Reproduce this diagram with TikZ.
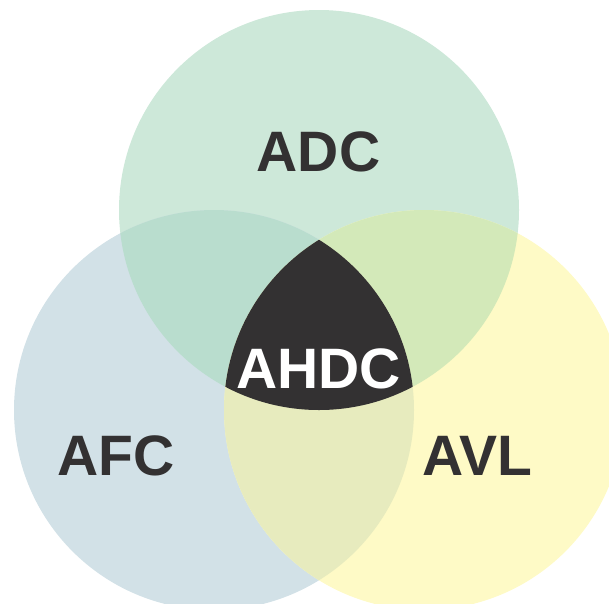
\documentclass[tikz,border=0pt]{standalone}
\usepackage{fontspec}
\setmainfont{Liberation Sans}
\definecolor{cTop}{HTML}{CDE8D9}
\definecolor{cLeft}{HTML}{D2E1E7}
\definecolor{cRight}{HTML}{FEFAC6}
\definecolor{cTL}{HTML}{B9DDCE}
\definecolor{cTR}{HTML}{D3E9B9}
\definecolor{cLR}{HTML}{E7EBBE}
\definecolor{cMid}{HTML}{333132}
\tikzset{lbl/.style={font=\fontsize{57}{57}\selectfont\bfseries, inner sep=0pt, anchor=base}}
\begin{document}
\begin{tikzpicture}[x=1pt,y=-1pt]
\useasboundingbox (0,0) rectangle (609,603);
\clip (0,0) rectangle (609,603);
\def\ct{(319,210) circle[radius=200pt]}
\def\cl{(214,410) circle[radius=200pt]}
\def\cr{(424,410) circle[radius=200pt]}
\fill[cTop] \ct;
\fill[cLeft] \cl;
\fill[cRight] \cr;
\begin{scope}\clip \ct; \fill[cTL] \cl; \end{scope}
\begin{scope}\clip \ct; \fill[cTR] \cr; \end{scope}
\begin{scope}\clip \cl; \fill[cLR] \cr; \end{scope}
\begin{scope}\clip \ct; \clip \cl; \fill[cMid] \cr; \end{scope}
\node[lbl, text=cMid] (adc) at (318.5,171) {ADC};
\node[lbl, text=white] (ahdc) at (318.5,388) {AHDC};
\node[lbl, text=cMid] (afc) at (116,475.5) {AFC};
\node[lbl, text=cMid] (avl) at (477.5,475.5) {AVL};
\end{tikzpicture}
\end{document}
